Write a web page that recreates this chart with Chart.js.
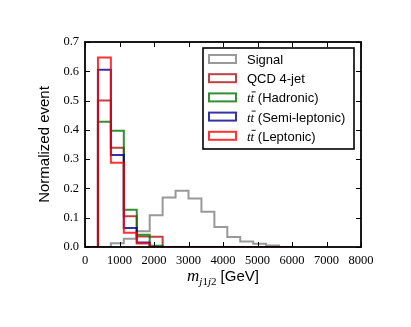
<!DOCTYPE html>
<html>
<head>
<meta charset="utf-8">
<script src="https://cdn.jsdelivr.net/npm/chart.js@4.4.1/dist/chart.umd.min.js"></script>
<style>
  html, body { margin: 0; padding: 0; background: #fff; }
  canvas { display: block; }
</style>
</head>
<body>
<canvas id="chart" width="411" height="327"></canvas>
<script>
// m_j1j2 histograms, 375 GeV bins from 0 to 6000
const binEdges = [0, 375, 750, 1125, 1500, 1875, 2250, 2625, 3000, 3375, 3750, 4125, 4500, 4875, 5250, 5625, 6000];

const signal    = [0, 0, 0.013, 0.028, 0.054, 0.108, 0.169, 0.192, 0.166, 0.120, 0.068, 0.034, 0.019, 0.011, 0.005, 0];
const qcd       = [0, 0.500, 0.339, 0.105, 0.036, 0.035, 0, 0, 0, 0, 0, 0, 0, 0, 0, 0];
const hadronic  = [0, 0.428, 0.397, 0.127, 0.042, 0.004, 0, 0, 0, 0, 0, 0, 0, 0, 0, 0];
const semilep   = [0, 0.605, 0.314, 0.065, 0.015, 0, 0, 0, 0, 0, 0, 0, 0, 0, 0, 0];
const leptonic  = [0, 0.647, 0.288, 0.049, 0.012, 0, 0, 0, 0, 0, 0, 0, 0, 0, 0, 0];

const seriesNames  = ["Signal", "QCD 4-jet", "tt\u0304 (Hadronic)", "tt\u0304 (Semi-leptonic)", "tt\u0304 (Leptonic)"];
const seriesColors = ["rgba(128,128,128,0.8)", "rgba(170,20,20,0.8)", "rgba(0,115,0,0.8)", "rgba(0,0,140,0.8)", "rgba(255,0,0,0.8)"];

const xTicks = [0, 1000, 2000, 3000, 4000, 5000, 6000, 7000, 8000];
const yTicks = [0, 0.1, 0.2, 0.3, 0.4, 0.5, 0.6, 0.7];

const SERIF = '"Liberation Serif", "DejaVu Serif", serif';
const SANS = '"Liberation Sans", Arial, sans-serif';

// outline of a step histogram: up at first edge, across each bin, down at the last edge
function stepPoints(vals){
  const pts = [{x: binEdges[0], y: 0}];
  vals.forEach((v, i) => pts.push({x: binEdges[i], y: v}));
  pts.push({x: binEdges[vals.length], y: vals[vals.length - 1]});
  pts.push({x: binEdges[vals.length], y: 0});
  return pts;
}

const allSeries = [signal, qcd, hadronic, semilep, leptonic];

// frame + inward ticks on all four sides
const framePlugin = {
  id: "frame",
  afterDatasetsDraw(chart){
    const {ctx, chartArea: a, scales} = chart;
    ctx.save();
    ctx.strokeStyle = "#000";
    ctx.lineWidth = 1;
    xTicks.forEach(t => {
      const px = Math.round(scales.x.getPixelForValue(t)) + 0.5;
      ctx.beginPath();
      ctx.moveTo(px, a.bottom); ctx.lineTo(px, a.bottom - 5);
      ctx.moveTo(px, a.top); ctx.lineTo(px, a.top + 5);
      ctx.stroke();
    });
    yTicks.forEach(t => {
      const py = Math.round(scales.y.getPixelForValue(t)) + 0.5;
      ctx.beginPath();
      ctx.moveTo(a.left, py); ctx.lineTo(a.left + 5, py);
      ctx.moveTo(a.right, py); ctx.lineTo(a.right - 5, py);
      ctx.stroke();
    });
    ctx.lineWidth = 1.8;
    ctx.strokeRect(a.left, a.top, a.right - a.left, a.bottom - a.top);
    ctx.restore();
  }
};

// legend box in the upper right of the axes
const legendPlugin = {
  id: "boxLegend",
  afterDraw(chart){
    const {ctx, chartArea: a} = chart;
    const boxW = 151, boxH = 101;
    const bx = a.right - 7 - boxW, by = a.top + 6;
    ctx.save();
    ctx.fillStyle = "#fff";
    ctx.fillRect(bx, by, boxW, boxH);
    ctx.strokeStyle = "#000";
    ctx.lineWidth = 1.6;
    ctx.strokeRect(bx, by, boxW, boxH);

    seriesNames.forEach((name, i) => {
      const cy = by + 11 + i * 19.2;
      ctx.strokeStyle = seriesColors[i];
      ctx.lineWidth = 2;
      ctx.strokeRect(bx + 6, cy - 4, 27, 8);

      let tx = bx + 44;
      const base = cy + 5;
      ctx.fillStyle = "#000";
      ctx.textBaseline = "alphabetic";
      let rest = name;
      if (name.startsWith("tt\u0304")){
        ctx.font = "italic 13px " + SERIF;
        const w1 = ctx.measureText("t").width;
        const w2 = ctx.measureText("tt").width;
        ctx.fillText("tt", tx, base);
        ctx.lineWidth = 0.9;
        ctx.strokeStyle = "#000";
        ctx.beginPath();
        ctx.moveTo(tx + w1 + 1, base - 10.5);
        ctx.lineTo(tx + w2 + 1.5, base - 10.5);
        ctx.stroke();
        tx += w2;
        rest = name.slice(3);
      }
      ctx.font = "13px " + SANS;
      ctx.fillText(rest, tx, base);
    });
    ctx.restore();
  }
};

// x axis title m_{j1j2} [GeV]
const xTitlePlugin = {
  id: "xTitle",
  afterDraw(chart){
    const {ctx, chartArea: a} = chart;
    ctx.save();
    ctx.fillStyle = "#000";
    ctx.textBaseline = "alphabetic";
    const mFont = "italic 17px " + SERIF;
    const jFont = "italic 11px " + SERIF;
    const dFont = "11px " + SERIF;
    const gFont = "15px " + SANS;
    const parts = [
      [mFont, "m", 0], [jFont, "j", 4], [dFont, "1", 4], [jFont, "j", 4], [dFont, "2", 4], [gFont, " [GeV]", 0]
    ];
    let total = 0;
    parts.forEach(p => { ctx.font = p[0]; total += ctx.measureText(p[1]).width; });
    let x = (a.left + a.right) / 2 - total / 2;
    const base = 281;
    parts.forEach(p => {
      ctx.font = p[0];
      ctx.fillText(p[1], x, base + p[2]);
      x += ctx.measureText(p[1]).width;
    });
    ctx.restore();
  }
};

new Chart(document.getElementById("chart"), {
  type: "line",
  data: {
    datasets: allSeries.map((vals, i) => ({
      label: seriesNames[i],
      data: stepPoints(vals),
      borderColor: seriesColors[i],
      borderWidth: 2,
      pointRadius: 0,
      fill: false,
      stepped: "before",
      tension: 0,
      order: allSeries.length - i
    }))
  },
  options: {
    responsive: false,
    animation: false,
    devicePixelRatio: 1,
    layout: { padding: { top: 42, right: 50, left: 0, bottom: 0 } },
    plugins: { legend: { display: false }, tooltip: { enabled: false } },
    scales: {
      x: {
        type: "linear",
        min: 0, max: 8000,
        grid: { display: false, drawTicks: false },
        border: { display: false },
        afterBuildTicks: s => { s.ticks = xTicks.map(v => ({value: v})); },
        ticks: { autoSkip: false, maxRotation: 0, padding: 6, color: "#000",
                 font: { family: SERIF, size: 12.5 }, callback: v => String(v) },
        afterFit: s => { s.height = 80; }
      },
      y: {
        type: "linear",
        min: 0, max: 0.7,
        grid: { display: false, drawTicks: false },
        border: { display: false },
        afterBuildTicks: s => { s.ticks = yTicks.map(v => ({value: v})); },
        ticks: { padding: 6, color: "#000",
                 font: { family: SERIF, size: 12.5 }, callback: v => v.toFixed(1) },
        title: { display: true, text: "Normalized event", color: "#000",
                 font: { family: SANS, size: 15 }, padding: { top: 35.5, bottom: 0 } },
        afterFit: s => { s.width = 85; }
      }
    }
  },
  plugins: [framePlugin, legendPlugin, xTitlePlugin]
});
</script>
</body>
</html>
